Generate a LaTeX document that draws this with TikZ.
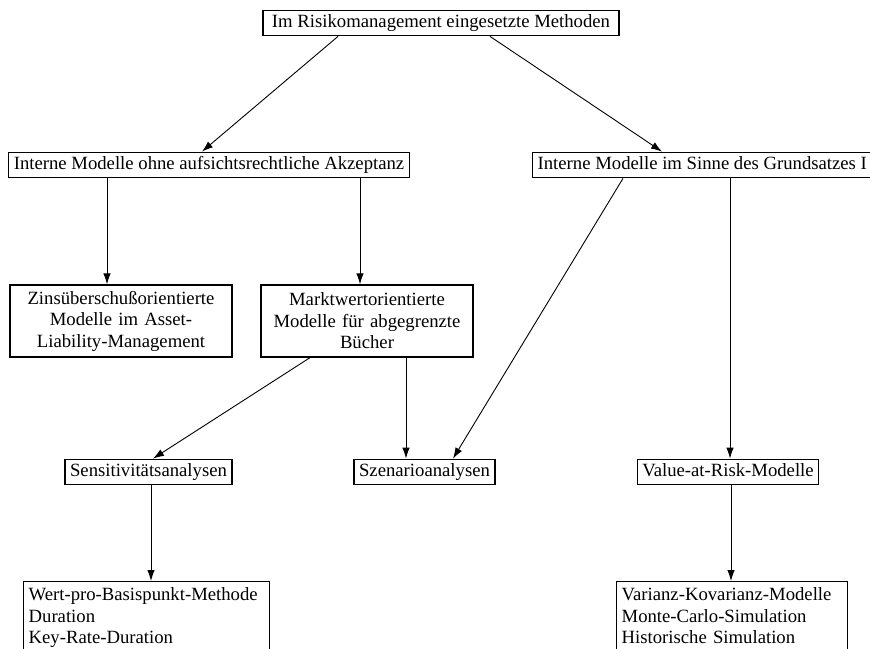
\documentclass[tikz,border=0pt]{standalone}
\usepackage{fontspec}
\setmainfont{Liberation Serif}
\usetikzlibrary{arrows.meta}
\begin{document}
\begin{tikzpicture}[x=1pt,y=-1pt,
  box/.style={draw, line width=1.3pt, inner xsep=5pt, inner ysep=4pt,
    font=\fontsize{18.7}{21.5}\selectfont, text height=13pt, text depth=4.5pt},
  arr/.style={-{Latex[length=11pt,width=7.5pt]}, line width=0.9pt}]
\useasboundingbox[fill=white] (0,0) rectangle (870,648);
\node[box, minimum width=356pt] (top) at (441,23) {Im Risikomanagement eingesetzte Methoden};
\node[box, minimum width=400pt] (L1) at (209,165) {Interne Modelle ohne aufsichtsrechtliche Akzeptanz};
\node[box, anchor=west, minimum width=338pt, align=left] (R1) at (532,165) {Interne Modelle im Sinne des Grundsatzes I\hfill};
\node[box, text width=212pt, align=center, text height=, text depth=, minimum height=72pt] (Zins) at (121,321)
  {Zinsüberschußorientierte\\Modelle im Asset-\\Liability-Management};
\node[box, text width=202pt, align=center, text height=, text depth=, minimum height=72pt] (Markt) at (367,321)
  {Marktwertorientierte\\Modelle für abgegrenzte\\Bücher};
\node[box] (Sens) at (148.5,472) {Sensitivitätsanalysen};
\node[box] (Szen) at (424.5,472) {Szenarioanalysen};
\node[box] (VaR) at (728,472) {Value-at-Risk-Modelle};
\node[box, anchor=north west, text width=236pt, align=left, text height=, text depth=, inner ysep=5pt, minimum height=90pt] (BL) at (23,581)
  {Wert-pro-Basispunkt-Methode\\Duration\\Key-Rate-Duration\\\mbox{}};
\node[box, anchor=north west, text width=221pt, align=left, text height=, text depth=, inner ysep=5pt, minimum height=90pt] (BR) at (616,581)
  {Varianz-Kovarianz-Modelle\\Monte-Carlo-Simulation\\Historische Simulation\\\mbox{}};
\draw[arr] (top.south -| 338,0) -- (L1.north -| 202,0);
\draw[arr] (top.south -| 490,0) -- (R1.north -| 662,0);
\draw[arr] (L1.south -| 107,0) -- (Zins.north -| 107,0);
\draw[arr] (L1.south -| 360,0) -- (Markt.north -| 360,0);
\draw[arr] (Markt.south -| 310,0) -- (Sens.north -| 153,0);
\draw[arr] (Markt.south -| 406,0) -- (Szen.north -| 406,0);
\draw[arr] (R1.south -| 623,0) -- (Szen.north -| 453,0);
\draw[arr] (R1.south -| 730,0) -- (VaR.north -| 730,0);
\draw[arr] (Sens.south -| 151,0) -- (BL.north -| 151,0);
\draw[arr] (VaR.south -| 731,0) -- (BR.north -| 731,0);
\end{tikzpicture}
\end{document}
